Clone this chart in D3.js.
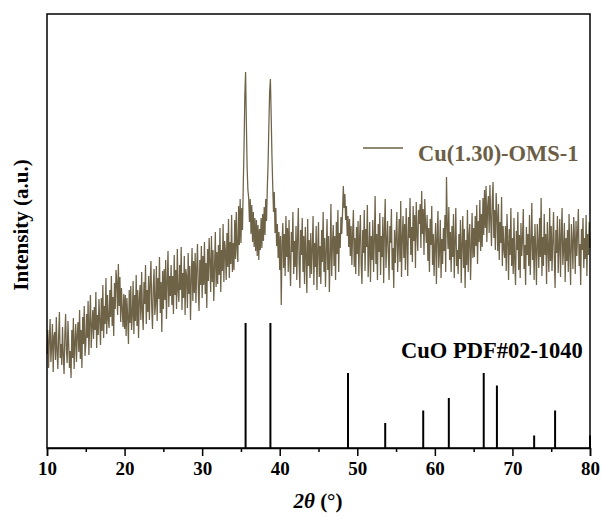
<!DOCTYPE html>
<html>
<head>
<meta charset="utf-8">
<script src="https://cdn.jsdelivr.net/npm/d3@7"></script>
<style>
	body { margin: 0; background: #fff; }
	svg { display: block; }
	text { font-family: "Liberation Serif", "Times New Roman", serif; font-weight: bold; }
</style>
</head>
<body>
<svg id="chart" width="602" height="523"></svg>
<script>
const colors = {
	trace: "#6e6247",
	legendText: "#6b5e44",
	stick: "#000000",
	axis: "#000000",
};

// measured pattern, 2theta 10..80 in steps of 0.1 (one row per degree)
const thetaStart = 10;
const thetaStep = 0.1;
const intensityRows = [
	[94, 118, 80, 108, 129, 86, 101, 124, 76, 112],
	[116, 88, 131, 97, 79, 112, 136, 90, 104, 83],
	[121, 92, 74, 113, 134, 98, 85, 127, 104, 80],
	[97, 70, 118, 90, 130, 79, 106, 124, 86, 113],
	[126, 96, 138, 89, 118, 80, 131, 104, 142, 92],
	[104, 134, 110, 147, 93, 126, 153, 100, 121, 138],
	[109, 141, 118, 156, 100, 133, 113, 149, 127, 103],
	[150, 117, 163, 110, 142, 124, 170, 114, 153, 129],
	[120, 158, 131, 172, 122, 151, 112, 165, 139, 178],
	[166, 133, 184, 142, 171, 126, 160, 139, 121, 154],
	[119, 153, 112, 150, 131, 104, 158, 125, 162, 118],
	[133, 167, 114, 153, 127, 173, 122, 158, 110, 149],
	[163, 128, 176, 137, 118, 166, 144, 183, 124, 158],
	[136, 172, 128, 165, 187, 141, 119, 161, 179, 133],
	[145, 182, 127, 170, 149, 191, 135, 166, 116, 177],
	[139, 179, 148, 188, 129, 166, 197, 141, 172, 152],
	[183, 143, 172, 134, 193, 153, 178, 139, 199, 157],
	[146, 183, 158, 201, 138, 175, 150, 192, 133, 179],
	[171, 140, 195, 154, 182, 128, 168, 200, 147, 187],
	[155, 195, 145, 180, 204, 160, 137, 188, 163, 202],
	[150, 192, 163, 206, 154, 185, 140, 199, 167, 210],
	[186, 156, 212, 166, 198, 147, 181, 216, 161, 196],
	[164, 203, 173, 220, 156, 198, 177, 224, 166, 207],
	[197, 168, 215, 181, 229, 170, 206, 184, 233, 176],
	[205, 178, 228, 189, 236, 199, 186, 242, 203, 249],
	[205, 240, 218, 262, 300, 352, 376, 326, 280, 258],
	[250, 226, 249, 214, 243, 206, 236, 201, 230, 197],
	[228, 192, 223, 188, 219, 198, 230, 200, 234, 207],
	[241, 213, 249, 227, 260, 284, 322, 356, 369, 332],
	[292, 262, 236, 256, 215, 240, 202, 224, 190, 216],
	[178, 212, 143, 204, 225, 180, 214, 172, 232, 191],
	[220, 176, 228, 188, 162, 216, 196, 236, 174, 207],
	[181, 222, 168, 210, 240, 185, 160, 218, 193, 230],
	[176, 212, 164, 221, 192, 155, 229, 182, 208, 170],
	[215, 174, 199, 232, 163, 205, 181, 222, 158, 198],
	[226, 171, 202, 164, 218, 186, 236, 176, 210, 161],
	[197, 229, 178, 212, 156, 192, 244, 172, 204, 223],
	[182, 212, 168, 226, 194, 238, 176, 215, 200, 231],
	[214, 236, 262, 240, 254, 228, 242, 212, 232, 201],
	[229, 192, 222, 183, 215, 238, 181, 210, 174, 221],
	[194, 227, 172, 212, 233, 184, 164, 218, 195, 238],
	[177, 219, 201, 243, 171, 196, 226, 166, 212, 188],
	[228, 176, 207, 252, 184, 214, 168, 224, 196, 235],
	[173, 212, 191, 231, 165, 218, 249, 180, 205, 227],
	[195, 168, 222, 205, 239, 178, 200, 160, 218, 185],
	[213, 236, 176, 203, 229, 186, 247, 171, 209, 232],
	[190, 224, 178, 240, 204, 172, 231, 210, 250, 193],
	[221, 186, 242, 207, 233, 180, 246, 215, 197, 238],
	[224, 244, 200, 257, 214, 239, 193, 249, 222, 205],
	[233, 187, 220, 176, 229, 203, 242, 183, 214, 172],
	[204, 225, 164, 211, 237, 180, 197, 228, 170, 209],
	[184, 220, 197, 233, 176, 271, 225, 199, 241, 188],
	[216, 176, 222, 191, 234, 170, 207, 240, 182, 198],
	[174, 214, 189, 228, 165, 203, 232, 180, 219, 160],
	[208, 183, 238, 176, 212, 224, 168, 199, 235, 190],
	[220, 191, 232, 202, 243, 184, 227, 206, 248, 197],
	[234, 201, 250, 213, 258, 220, 262, 206, 241, 252],
	[215, 263, 230, 202, 247, 266, 210, 238, 198, 255],
	[233, 197, 244, 188, 226, 205, 251, 182, 222, 198],
	[190, 222, 177, 234, 208, 168, 219, 193, 240, 182],
	[210, 174, 230, 186, 163, 217, 198, 236, 178, 213],
	[170, 225, 192, 209, 239, 179, 203, 163, 221, 193],
	[214, 182, 233, 173, 204, 245, 188, 212, 168, 224],
	[199, 163, 224, 206, 180, 230, 191, 250, 172, 211],
	[182, 234, 193, 214, 164, 226, 199, 176, 240, 187],
	[222, 177, 207, 236, 190, 160, 218, 195, 232, 175],
	[201, 229, 171, 212, 240, 183, 199, 225, 166, 210],
	[187, 218, 176, 234, 194, 163, 224, 206, 179, 231],
	[210, 174, 227, 192, 215, 239, 182, 204, 163, 219],
	[198, 230, 180, 210, 189, 233, 172, 214, 193, 226],
	[200],
];

// CuO reference sticks (PDF#02-1040)
const stickPositions = [35.6, 38.8, 48.8, 53.6, 58.5, 61.8, 66.3, 68.0, 72.8, 75.5, 80.0];
const stickHeights = [100, 100, 60, 20, 30, 40, 60, 50, 10, 30, 10];

const xTicks = [10, 20, 30, 40, 50, 60, 70, 80];
const xMinorTicks = [15, 25, 35, 45, 55, 65, 75];

const seriesLabel = "Cu(1.30)-OMS-1";
const refLabel = "CuO PDF#02-1040";

const margin = { left: 47, right: 590, top: 14, bottom: 448 };

const svg = d3.select("#chart");

const x = d3.scaleLinear().domain([10, 80]).range([margin.left, margin.right]);
const y = d3.scaleLinear().domain([0, 434]).range([margin.bottom, margin.top]);
const yStick = d3.scaleLinear().domain([0, 100]).range([margin.bottom, margin.bottom - 125]);

const pattern = intensityRows.flat().map((v, i) => ({ theta: thetaStart + i * thetaStep, value: v }));
const sticks = stickPositions.map((p, i) => ({ theta: p, height: stickHeights[i] }));

const line = d3
	.line()
	.x((d) => x(d.theta))
	.y((d) => y(d.value));

svg
	.append("path")
	.datum(pattern)
	.attr("fill", "none")
	.attr("stroke", colors.trace)
	.attr("stroke-width", 1.25)
	.attr("d", line);

svg
	.selectAll(".stick")
	.data(sticks)
	.join("line")
	.attr("class", "stick")
	.attr("x1", (d) => x(d.theta))
	.attr("x2", (d) => x(d.theta))
	.attr("y1", yStick(0))
	.attr("y2", (d) => yStick(d.height))
	.attr("stroke", colors.stick)
	.attr("stroke-width", 2);

// frame
svg
	.append("rect")
	.attr("x", margin.left)
	.attr("y", margin.top)
	.attr("width", margin.right - margin.left)
	.attr("height", margin.bottom - margin.top)
	.attr("fill", "none")
	.attr("stroke", colors.axis)
	.attr("stroke-width", 1.5);

const xAxis = svg
	.append("g")
	.attr("transform", `translate(0,${margin.bottom})`)
	.call(d3.axisBottom(x).tickValues(xTicks).tickSize(8).tickPadding(6).tickFormat(d3.format("d")));
xAxis.select(".domain").attr("stroke-width", 1.5);
xAxis.selectAll(".tick line").attr("stroke-width", 1.5);
xAxis
	.selectAll(".tick text")
	.attr("font-size", 19)
	.attr("font-family", '"Liberation Serif", serif')
	.attr("font-weight", "bold")
	.attr("fill", "#000");

const xMinor = svg
	.append("g")
	.attr("transform", `translate(0,${margin.bottom})`)
	.call(d3.axisBottom(x).tickValues(xMinorTicks).tickSize(4).tickFormat(""));
xMinor.select(".domain").remove();
xMinor.selectAll(".tick line").attr("stroke-width", 1.5);

// axis titles
const xTitle = svg
	.append("text")
	.attr("x", 318)
	.attr("y", 508)
	.attr("text-anchor", "middle")
	.attr("font-size", 21);
xTitle.append("tspan").attr("font-style", "italic").text("2θ");
xTitle.append("tspan").text(" (°)");

svg
	.append("text")
	.attr("transform", "translate(28,225) rotate(-90)")
	.attr("text-anchor", "middle")
	.attr("font-size", 21)
	.text("Intensity (a.u.)");

// legend
svg
	.append("line")
	.attr("x1", 363)
	.attr("x2", 403)
	.attr("y1", 148)
	.attr("y2", 148)
	.attr("stroke", colors.trace)
	.attr("stroke-width", 1.5);

svg
	.append("text")
	.attr("x", 418)
	.attr("y", 161)
	.attr("font-size", 22.5)
	.attr("fill", colors.legendText)
	.text(seriesLabel);

svg
	.append("text")
	.attr("x", 401)
	.attr("y", 358)
	.attr("font-size", 22.5)
	.attr("fill", "#000")
	.text(refLabel);
</script>
</body>
</html>
